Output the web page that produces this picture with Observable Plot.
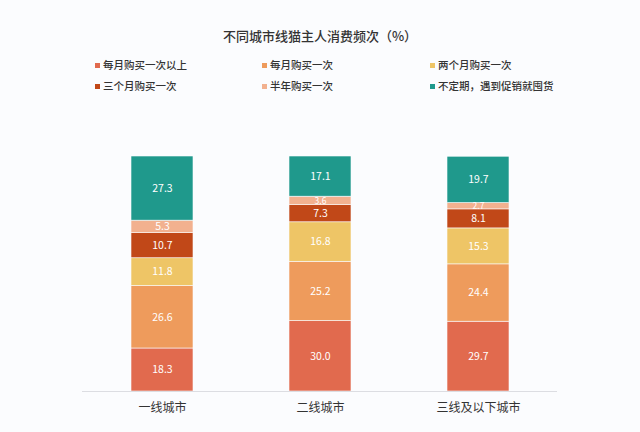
<!DOCTYPE html>
<html>
<head>
<meta charset="utf-8">
<script src="https://cdn.jsdelivr.net/npm/d3@7"></script>
<script src="https://cdn.jsdelivr.net/npm/@observablehq/plot@0.6"></script>
<style>
  html, body { margin: 0; padding: 0; background: #fbfcfe; }
  body { width: 640px; height: 432px; position: relative; overflow: hidden; font-family: "Noto Sans CJK SC", "Noto Sans", sans-serif; color: #333; }
  #title { position: absolute; top: 26px; left: 0; width: 640px; text-align: center; font-size: 13px; font-weight: 500; color: #333; }
  .leg { position: absolute; font-size: 10.5px; font-weight: 500; color: #333; white-space: nowrap; display: flex; align-items: center; line-height: 16px; }
  .sw { width: 5px; height: 5px; margin-right: 3px; display: inline-block; }
  #chart { position: absolute; top: 100px; left: 0; }
</style>
</head>
<body>
<div id="title">不同城市线猫主人消费频次（%）</div>
<div id="legend"></div>
<div id="chart"></div>
<script>
const cities = ["一线城市", "二线城市", "三线及以下城市"];
const frequencies = ["每月购买一次以上", "每月购买一次", "两个月购买一次", "三个月购买一次", "半年购买一次", "不定期，遇到促销就囤货"];
const colors = ["#e16a4e", "#ee9b5c", "#eec566", "#c14818", "#f2b18f", "#1f998c"];
const tier1Values = [18.3, 26.6, 11.8, 10.7, 5.3, 27.3];
const tier2Values = [30.0, 25.2, 16.8, 7.3, 3.6, 17.1];
const tier3Values = [29.7, 24.4, 15.3, 8.1, 2.7, 19.7];

const seriesByCity = [tier1Values, tier2Values, tier3Values];
const data = [];
cities.forEach((c, i) => frequencies.forEach((f, j) => data.push({city: c, freq: f, value: seriesByCity[i][j]})));

// legend
const legend = document.getElementById("legend");
const legX = [95, 262, 430];
const legY = [57, 78];
frequencies.forEach((f, j) => {
  const d = document.createElement("div");
  d.className = "leg";
  d.style.left = legX[j % 3] + "px";
  d.style.top = legY[Math.floor(j / 3)] + "px";
  d.innerHTML = `<span class="sw" style="background:${colors[j]}"></span>${f}`;
  legend.appendChild(d);
});

const chart = Plot.plot({
  width: 640,
  height: 332,
  marginLeft: 82,
  marginRight: 83,
  marginTop: 56,
  marginBottom: 41,
  style: {background: "transparent", fontFamily: "'Noto Sans CJK SC', sans-serif"},
  x: {domain: cities, paddingInner: 0.61, paddingOuter: 0.305, label: null},
  y: {domain: [0, 100], axis: null},
  color: {domain: frequencies, range: colors},
  marks: [
    Plot.barY(data, Plot.stackY({x: "city", y: "value", fill: "freq", stroke: "#fbfcfe", strokeWidth: 0.6})),
    Plot.ruleY([0], {stroke: "#dcdde2", strokeWidth: 1.2}),
    Plot.text(data, Plot.stackY({x: "city", y: "value", text: d => d.value.toFixed(1), fill: "white", fontSize: d => d.value < 4 ? 8.5 : 10.5, style: "letter-spacing:1px"})),
    Plot.axisX({tickSize: 0, tickPadding: 12, fontSize: 12, fill: "#333", label: null})
  ]
});
document.getElementById("chart").appendChild(chart);
</script>
</body>
</html>
